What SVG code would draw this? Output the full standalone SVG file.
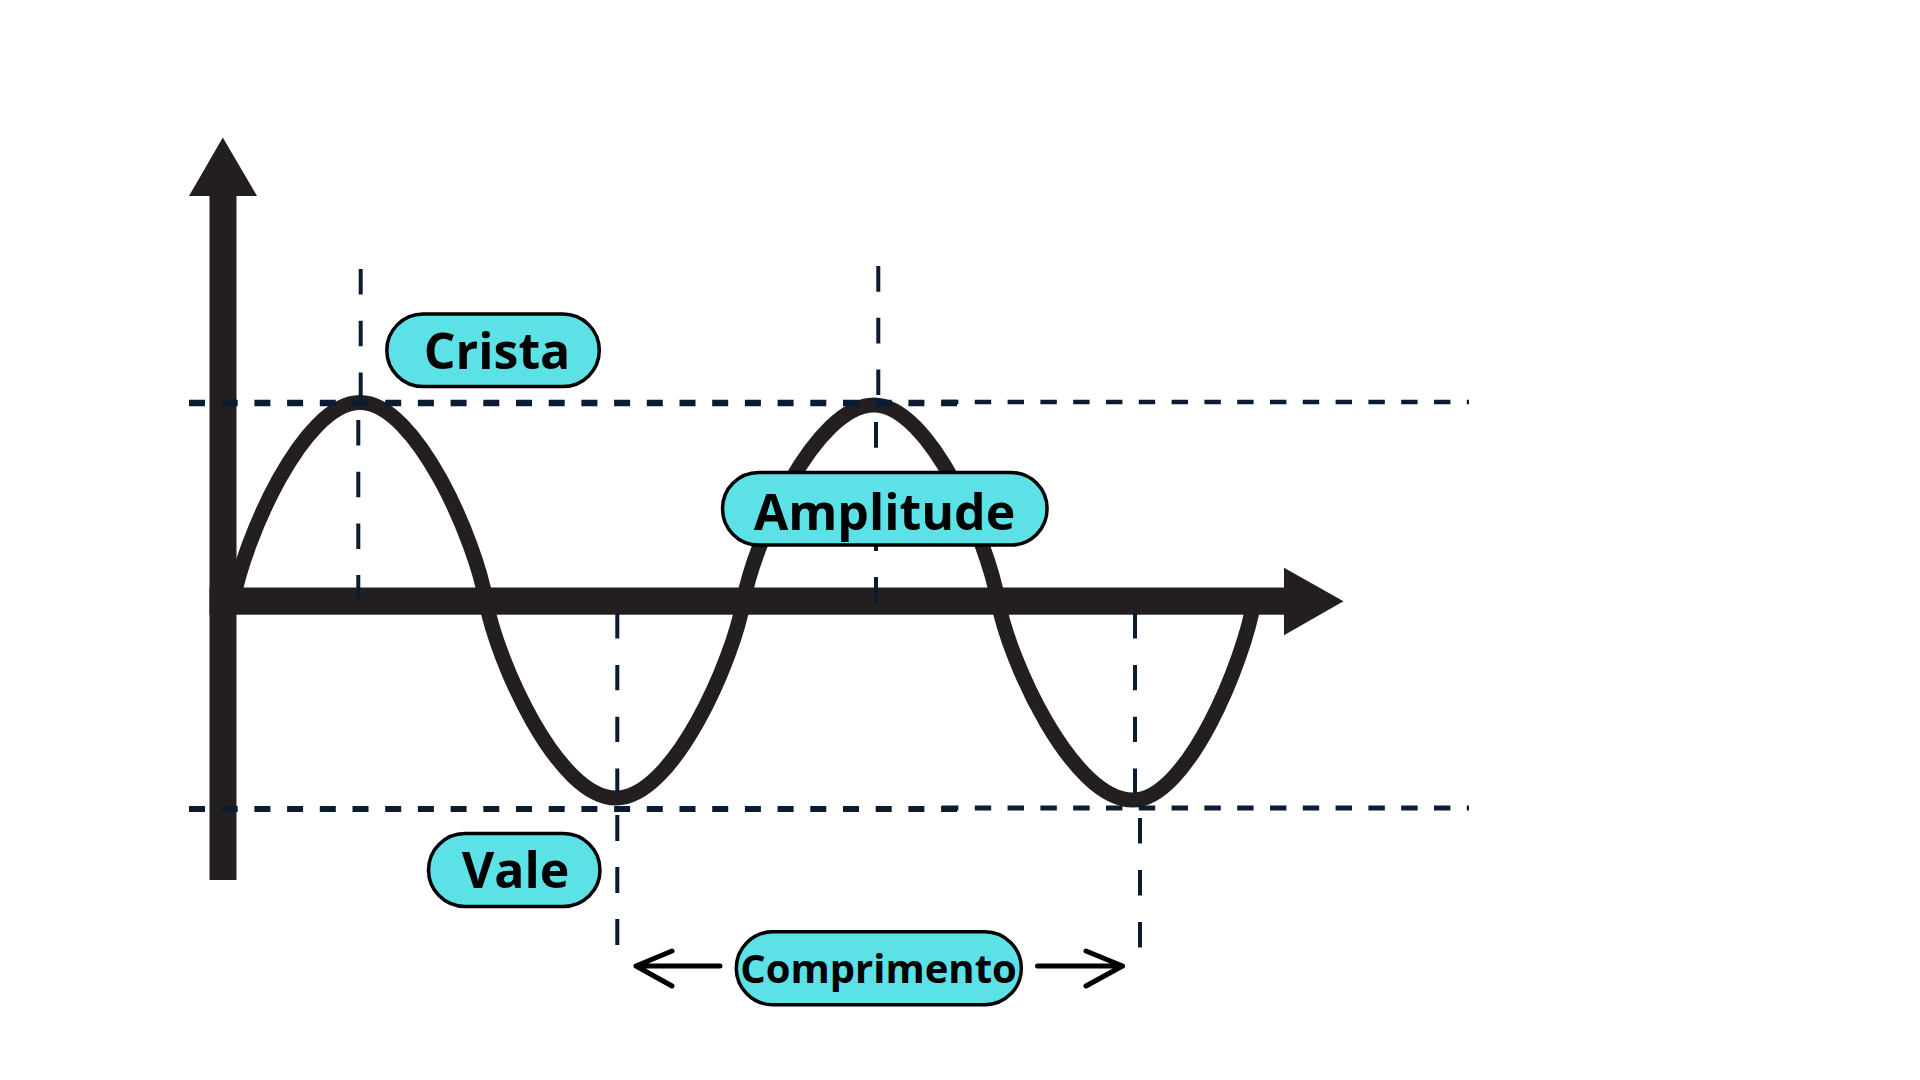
<svg xmlns="http://www.w3.org/2000/svg" width="1920" height="1080" viewBox="0 0 1920 1080">
  <style>
    .axis { fill: #231f20; }
    .wave { fill: none; stroke: #231f20; stroke-width: 15; stroke-linejoin: round; }
    .hdash { stroke: #0b1b31; fill: none; }
    .vdash { stroke: #0b1b31; stroke-width: 4; fill: none; }
    .pill { fill: #5ce1e6; stroke: #000000; stroke-width: 3.5; }
    .lbl { font-family: "Open Sans", "Noto Sans", "Liberation Sans", sans-serif; font-weight: 700; fill: #000000; text-anchor: middle; }
    .conn { fill: none; stroke: #000000; stroke-width: 5; stroke-linecap: round; stroke-linejoin: round; }
  </style>
  <rect x="0" y="0" width="1920" height="1080" fill="#ffffff"/>

  <!-- wave -->
  <g id="wave">
    <path class="wave" d="M233,601 C243.2,541.5 302.9,402.5 360,402.5 C416.7,402.5 475.9,541.5 486,601 C496.4,660.1 557.5,798 616,798 C673.4,798 733.3,660.1 743.5,601 C753.9,542.2 815.3,405 874,405 C929.8,405 988.1,542.2 998,601 C1008.8,660.7 1072.3,800 1133,800 C1187.5,800 1244.3,660.7 1254,601"/>
  </g>

  <!-- axes -->
  <g id="axes">
    <rect class="axis" x="209.5" y="194" width="27" height="686"/>
    <polygon class="axis" points="189,196 222.8,137.5 257,196"/>
    <rect class="axis" x="209.5" y="587.5" width="1076" height="27.2"/>
    <polygon class="axis" points="1284,567.8 1343.5,601.3 1284,635.3"/>
  </g>

  <!-- dashed guide lines -->
  <g id="guides">
    <line class="hdash" x1="189" y1="403" x2="957" y2="403" stroke-width="6.5" stroke-dasharray="16 16.7"/>
    <line class="hdash" x1="942" y1="402" x2="1469" y2="402" stroke-width="4.6" stroke-dasharray="16.4 16.4"/>
    <line class="hdash" x1="189" y1="809" x2="957" y2="809" stroke-width="5.8" stroke-dasharray="16 16.7"/>
    <line class="hdash" x1="942" y1="808" x2="1469" y2="808" stroke-width="5" stroke-dasharray="16.4 16.4"/>

    <line class="vdash" x1="360.7" y1="269" x2="360.7" y2="403" stroke-dasharray="25.5 26.2"/>
    <line class="vdash" x1="358.3" y1="420" x2="358.3" y2="601" stroke-dasharray="25.5 26.2"/>

    <line class="vdash" x1="878.3" y1="266" x2="878.3" y2="396" stroke-dasharray="25.7 26"/>
    <line class="vdash" x1="876" y1="422" x2="876" y2="603.5" stroke-dasharray="25.7 26"/>

    <line class="vdash" x1="617.3" y1="613.3" x2="617.3" y2="795" stroke-dasharray="25.3 26.4"/>
    <line class="vdash" x1="617.3" y1="815" x2="617.3" y2="946" stroke-dasharray="26 26"/>

    <line class="vdash" x1="1135" y1="613.3" x2="1135" y2="795" stroke-dasharray="25.3 26.4"/>
    <line class="vdash" x1="1140" y1="818" x2="1140" y2="948.5" stroke-dasharray="25.5 26.5"/>
  </g>

  <!-- connectors -->
  <g id="connectors">
    <path class="conn" d="M720,966 L636,966 M672,951 L636,966 L672,986"/>
    <path class="conn" d="M1037.5,966 L1122.5,966 M1086,951 L1122.5,966 L1086,986"/>
  </g>

  <!-- nodes -->
  <g id="node-crista">
    <rect class="pill" x="386.8" y="314" width="212.5" height="72.6" rx="36.3"/>
    <text class="lbl" x="497" y="369.3" font-size="50">Crista</text>
  </g>
  <g id="node-amplitude">
    <rect class="pill" x="722.5" y="472.5" width="324.6" height="72.5" rx="36.2"/>
    <text class="lbl" x="884.5" y="530" font-size="50">Amplitude</text>
  </g>
  <g id="node-vale">
    <rect class="pill" x="428.5" y="833.5" width="171.5" height="73" rx="36.5"/>
    <text class="lbl" x="515.5" y="888.3" font-size="50">Vale</text>
  </g>
  <g id="node-comprimento">
    <rect class="pill" x="736.3" y="931.8" width="285" height="73" rx="36.5"/>
    <text class="lbl" x="878.5" y="983.3" font-size="40">Comprimento</text>
  </g>
</svg>
